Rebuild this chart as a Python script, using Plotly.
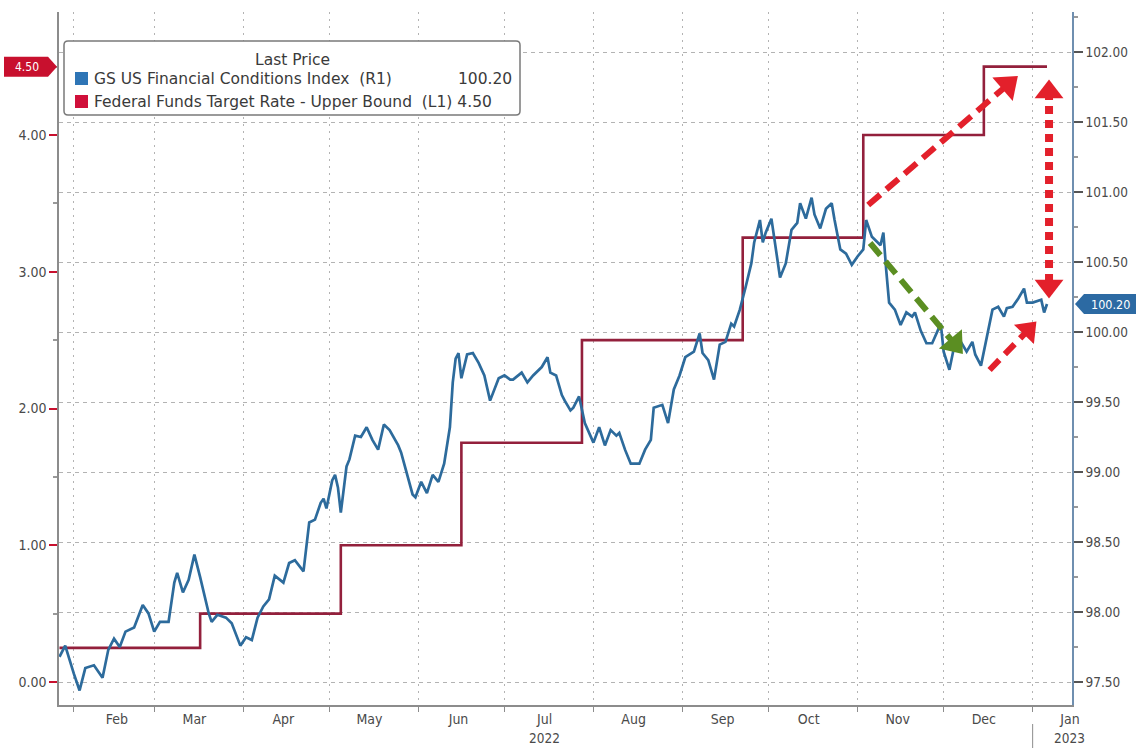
import plotly.graph_objects as go

# ---- data -----------------------------------------------------------------
fci_dates = [
    "2022-01-27", "2022-01-29", "2022-02-01", "2022-02-03", "2022-02-05", "2022-02-08",
    "2022-02-11", "2022-02-13", "2022-02-15", "2022-02-17", "2022-02-19", "2022-02-22",
    "2022-02-25", "2022-02-27", "2022-03-01", "2022-03-03", "2022-03-06", "2022-03-08",
    "2022-03-09", "2022-03-11", "2022-03-13", "2022-03-15", "2022-03-17", "2022-03-20",
    "2022-03-21", "2022-03-23", "2022-03-26", "2022-03-28", "2022-03-31", "2022-04-02",
    "2022-04-04", "2022-04-06", "2022-04-08", "2022-04-10", "2022-04-12", "2022-04-15",
    "2022-04-17", "2022-04-19", "2022-04-22", "2022-04-24", "2022-04-26", "2022-04-28",
    "2022-04-29", "2022-04-30", "2022-05-02", "2022-05-03", "2022-05-04", "2022-05-05",
    "2022-05-07", "2022-05-08", "2022-05-10", "2022-05-12", "2022-05-14", "2022-05-16",
    "2022-05-18", "2022-05-20", "2022-05-22", "2022-05-25", "2022-05-26", "2022-05-28",
    "2022-05-30", "2022-05-31", "2022-06-02", "2022-06-04", "2022-06-06", "2022-06-08",
    "2022-06-10", "2022-06-12", "2022-06-13", "2022-06-14", "2022-06-15", "2022-06-16",
    "2022-06-18", "2022-06-20", "2022-06-22", "2022-06-24", "2022-06-26", "2022-06-29",
    "2022-07-01", "2022-07-03", "2022-07-04", "2022-07-07", "2022-07-09", "2022-07-11",
    "2022-07-14", "2022-07-16", "2022-07-17", "2022-07-19", "2022-07-21", "2022-07-22",
    "2022-07-24", "2022-07-25", "2022-07-27", "2022-07-29", "2022-07-31", "2022-08-01",
    "2022-08-03", "2022-08-05", "2022-08-07", "2022-08-09", "2022-08-10", "2022-08-12",
    "2022-08-14", "2022-08-17", "2022-08-19", "2022-08-21", "2022-08-22", "2022-08-25",
    "2022-08-27", "2022-08-29", "2022-08-31", "2022-09-02", "2022-09-05", "2022-09-07",
    "2022-09-08", "2022-09-10", "2022-09-12", "2022-09-14", "2022-09-16", "2022-09-18",
    "2022-09-19", "2022-09-21", "2022-09-23", "2022-09-25", "2022-09-26", "2022-09-28",
    "2022-09-29", "2022-09-30", "2022-10-02", "2022-10-03", "2022-10-05", "2022-10-07",
    "2022-10-09", "2022-10-11", "2022-10-12", "2022-10-14", "2022-10-16", "2022-10-17",
    "2022-10-19", "2022-10-21", "2022-10-23", "2022-10-24", "2022-10-26", "2022-10-28",
    "2022-10-30", "2022-11-01", "2022-11-03", "2022-11-04", "2022-11-06", "2022-11-09",
    "2022-11-10", "2022-11-11", "2022-11-12", "2022-11-14", "2022-11-16", "2022-11-18",
    "2022-11-20", "2022-11-21", "2022-11-23", "2022-11-25", "2022-11-27", "2022-11-30",
    "2022-12-01", "2022-12-03", "2022-12-05", "2022-12-07", "2022-12-09", "2022-12-11",
    "2022-12-12", "2022-12-14", "2022-12-16", "2022-12-18", "2022-12-20", "2022-12-22",
    "2022-12-23", "2022-12-25", "2022-12-27", "2022-12-29", "2022-12-30", "2023-01-01",
    "2023-01-04", "2023-01-05", "2023-01-06",
]
fci_values = [
    97.68, 97.76, 97.56, 97.44, 97.60, 97.62,
    97.53, 97.73, 97.81, 97.75, 97.86, 97.89,
    98.05, 97.99, 97.86, 97.93, 97.93, 98.21,
    98.28, 98.14, 98.23, 98.41, 98.25, 97.99,
    97.93, 97.98, 97.96, 97.92, 97.76, 97.82,
    97.80, 97.96, 98.04, 98.09, 98.26, 98.21,
    98.35, 98.37, 98.29, 98.64, 98.66, 98.78,
    98.81, 98.74, 98.94, 98.98, 98.89, 98.71,
    99.04, 99.09, 99.26, 99.25, 99.32, 99.23,
    99.16, 99.34, 99.30, 99.19, 99.14, 98.99,
    98.84, 98.82, 98.93, 98.85, 98.98, 98.93,
    99.06, 99.32, 99.64, 99.81, 99.85, 99.67,
    99.84, 99.85, 99.78, 99.69, 99.51, 99.67,
    99.69, 99.66, 99.66, 99.71, 99.64, 99.69,
    99.75, 99.82, 99.71, 99.69, 99.55, 99.51,
    99.44, 99.46, 99.54, 99.35, 99.25, 99.21,
    99.32, 99.19, 99.30, 99.26, 99.28, 99.16,
    99.06, 99.06, 99.16, 99.23, 99.46, 99.48,
    99.35, 99.59, 99.69, 99.82, 99.86, 99.99,
    99.85, 99.80, 99.66, 99.91, 99.93, 100.06,
    100.04, 100.16, 100.32, 100.49, 100.64, 100.80,
    100.64, 100.71, 100.81, 100.68, 100.39, 100.49,
    100.73, 100.78, 100.92, 100.81, 100.96, 100.84,
    100.74, 100.88, 100.92, 100.80, 100.59, 100.56,
    100.48, 100.54, 100.59, 100.80, 100.68, 100.62,
    100.71, 100.44, 100.21, 100.16, 100.05, 100.14,
    100.11, 100.14, 100.01, 99.92, 99.92, 100.06,
    99.86, 99.73, 99.93, 99.93, 99.86, 99.93,
    99.84, 99.76, 99.96, 100.16, 100.18, 100.11,
    100.17, 100.18, 100.24, 100.31, 100.21, 100.21,
    100.23, 100.14, 100.20,
]

fed_dates = ["2022-01-27", "2022-03-17", "2022-05-05", "2022-06-16", "2022-07-28",
             "2022-09-22", "2022-11-03", "2022-12-15", "2023-01-06"]
fed_rates = [0.25, 0.50, 1.00, 1.75, 2.50, 3.25, 4.00, 4.50, 4.50]

month_tick_dates = ["2022-02-16", "2022-03-15", "2022-04-15", "2022-05-15", "2022-06-15",
                    "2022-07-15", "2022-08-15", "2022-09-15", "2022-10-15", "2022-11-15",
                    "2022-12-15", "2023-01-14"]
month_tick_labels = ["Feb", "Mar", "Apr", "May", "Jun", "Jul", "Aug", "Sep", "Oct",
                     "Nov", "Dec", "Jan"]
year_label_dates = ["2022-07-15", "2023-01-14"]
year_labels = ["2022", "2023"]

left_ticks = [0, 1, 2, 3, 4]

# annotation arrows (date, right-axis level)
arrow_rate_x = ["2022-11-04 17:00", "2022-12-23 07:00"]
arrow_rate_y = [100.907, 101.766]
arrow_fci_x = ["2022-11-05 09:00", "2022-12-04 19:00"]
arrow_fci_y = [100.636, 99.915]
arrow_rebound_x = ["2022-12-17 00:00", "2022-12-30 10:00"]
arrow_rebound_y = [99.729, 100.014]
arrow_gap_x = ["2023-01-06 17:00", "2023-01-06 17:00"]
arrow_gap_y = [101.714, 100.329]

# ---- styling ----------------------------------------------------------------
W, H = 1139, 748
ML, MR, MT, MB = 59, 67, 12, 43
PW, PH = W - ML - MR, H - MT - MB
FONT = "DejaVu Sans Condensed, DejaVu Sans, sans-serif"
LEGEND_FONT = "DejaVu Sans, sans-serif"
BLUE = "#2d6b9c"
FED = "#93203c"
ARROW_RED = "#e3202b"
ARROW_GREEN = "#5b8e22"
GRID = "#b3b3b3"
AXIS_TEXT = "#4a4a4a"


def px(x):
    return (x - ML) / PW


def py(y):
    return (H - MB - y) / PH


fig = go.Figure()

fig.add_trace(go.Scatter(
    x=fed_dates, y=fed_rates, mode="lines", line=dict(color=FED, width=2.6, shape="hv"),
    yaxis="y", showlegend=False, hoverinfo="skip"))

fig.add_trace(go.Scatter(
    x=fci_dates, y=fci_values, mode="lines", line=dict(color=BLUE, width=2.7),
    yaxis="y2", showlegend=False, hoverinfo="skip"))


def add_arrow(xs, ys, color, width, dash, size, symbols=None):
    if symbols is None:
        marker = dict(size=[0, size], symbol="triangle-up", angleref="previous", color=color,
                      opacity=1, line=dict(width=0))
    else:
        marker = dict(size=size, symbol=symbols, color=color, opacity=1, line=dict(width=0))
    fig.add_trace(go.Scatter(
        x=xs, y=ys, yaxis="y2", mode="lines+markers", opacity=1,
        line=dict(color=color, width=width, dash=dash),
        marker=marker, showlegend=False, hoverinfo="skip", cliponaxis=False))


add_arrow(arrow_rate_x, arrow_rate_y, ARROW_RED, 6, "16px,8px", 27)
add_arrow(arrow_fci_x, arrow_fci_y, ARROW_GREEN, 6, "16px,8px", 26)
add_arrow(arrow_rebound_x, arrow_rebound_y, ARROW_RED, 6, "14px,8px", 24)
add_arrow(arrow_gap_x, arrow_gap_y, ARROW_RED, 8, "8px,6px", 25,
          symbols=["triangle-up", "triangle-down"])

shapes = []
annotations = []

# price tags on each axis
fed_last = fed_rates[-1]
fci_last = fci_values[-1]
shapes.append(dict(type="path", xref="paper", yref="y", xsizemode="pixel", ysizemode="pixel",
                   xanchor=0, yanchor=fed_last,
                   path="M-55,-10 L-11,-10 L-2,0 L-11,10 L-55,10 Z",
                   fillcolor="#c8102e", line=dict(width=0)))
annotations.append(dict(xref="paper", yref="y", x=0, y=fed_last, xshift=-32, xanchor="center",
                        yanchor="middle", text=f"{fed_last:.2f}", showarrow=False,
                        font=dict(family=FONT, size=12, color="white")))
shapes.append(dict(type="path", xref="paper", yref="y2", xsizemode="pixel", ysizemode="pixel",
                   xanchor=1, yanchor=fci_last,
                   path="M3,0 L12,-10 L64,-10 L64,10 L12,10 Z",
                   fillcolor="#2c6aa3", line=dict(width=0)))
annotations.append(dict(xref="paper", yref="y2", x=1, y=fci_last, xshift=38, xanchor="center",
                        yanchor="middle", text=f"{fci_last:.2f}", showarrow=False,
                        font=dict(family=FONT, size=12.5, color="white")))

# year labels and separator under the month labels
for d, lab in zip(year_label_dates, year_labels):
    annotations.append(dict(xref="x", yref="paper", x=d, y=py(738), text=lab, showarrow=False,
                            xanchor="center", yanchor="middle",
                            font=dict(family=FONT, size=13.5, color=AXIS_TEXT)))
shapes.append(dict(type="line", xref="x", yref="paper", x0="2023-01-01", x1="2023-01-01",
                   y0=py(724), y1=py(748), line=dict(color="#8c8c8c", width=1)))


# legend box
def rounded_rect(x0, y0, x1, y1, r):
    pts = [
        f"M{px(x0 + r)},{py(y0)}", f"L{px(x1 - r)},{py(y0)}",
        f"Q{px(x1)},{py(y0)} {px(x1)},{py(y0 + r)}", f"L{px(x1)},{py(y1 - r)}",
        f"Q{px(x1)},{py(y1)} {px(x1 - r)},{py(y1)}", f"L{px(x0 + r)},{py(y1)}",
        f"Q{px(x0)},{py(y1)} {px(x0)},{py(y1 - r)}", f"L{px(x0)},{py(y0 + r)}",
        f"Q{px(x0)},{py(y0)} {px(x0 + r)},{py(y0)}", "Z",
    ]
    return " ".join(pts)


shapes.append(dict(type="path", xref="paper", yref="paper", path=rounded_rect(64, 41, 520, 115, 4),
                   fillcolor="white", line=dict(color="#7a7a7a", width=1.5), layer="above"))
shapes.append(dict(type="rect", xref="paper", yref="paper", x0=px(75), x1=px(88), y0=py(85),
                   y1=py(72), fillcolor="#2e75b6", line=dict(width=0), layer="above"))
shapes.append(dict(type="rect", xref="paper", yref="paper", x0=px(75), x1=px(88), y0=py(108),
                   y1=py(95), fillcolor="#d0103a", line=dict(width=0), layer="above"))

legend_font = dict(family=LEGEND_FONT, size=15.5, color="#3a3a3a")
annotations.append(dict(xref="paper", yref="paper", x=px(292), y=py(60), text="Last Price",
                        showarrow=False, xanchor="center", yanchor="middle", font=legend_font))
annotations.append(dict(xref="paper", yref="paper", x=px(92), y=py(79),
                        text="GS US Financial Conditions Index  (R1)",
                        showarrow=False, xanchor="left", yanchor="middle", font=legend_font))
annotations.append(dict(xref="paper", yref="paper", x=px(514), y=py(79), text=f"{fci_last:.2f}",
                        showarrow=False, xanchor="right", yanchor="middle", font=legend_font))
annotations.append(dict(xref="paper", yref="paper", x=px(92), y=py(102),
                        text=f"Federal Funds Target Rate - Upper Bound  (L1) {fed_last:.2f}",
                        showarrow=False, xanchor="left", yanchor="middle", font=legend_font))

tick_font = dict(family=FONT, size=14, color=AXIS_TEXT)

fig.update_layout(
    width=W, height=H,
    margin=dict(l=ML, r=MR, t=MT, b=MB),
    paper_bgcolor="white", plot_bgcolor="white",
    showlegend=False,
    shapes=shapes, annotations=annotations,
    xaxis=dict(
        type="date", range=["2022-01-26 20:00", "2023-01-14 17:00"], automargin=False,
        tickmode="array", tickvals=month_tick_dates, ticktext=month_tick_labels,
        ticks="", showgrid=False, zeroline=False,
        showline=True, linecolor="#8c8c8c", linewidth=1.5,
        tickfont=dict(family=FONT, size=14, color=AXIS_TEXT),
        minor=dict(tickmode="linear", tick0="2022-02-01", dtick="M1", ticks="outside",
                   ticklen=5, tickcolor="#8c8c8c", showgrid=True, gridcolor=GRID,
                   griddash="2px,5px", gridwidth=1),
    ),
    yaxis=dict(
        range=[-0.168, 4.8995], tickmode="array", tickvals=left_ticks, tickformat=".2f",
        automargin=False,
        ticks="outside", ticklen=8, tickwidth=2, tickcolor="#c8102e",
        showline=True, linecolor="#8c8c8c", linewidth=1.5,
        showgrid=False, zeroline=False, tickfont=tick_font,
        minor=dict(tickmode="linear", tick0=0.5, dtick=1, ticks="outside", ticklen=4,
                   tickcolor="#999999"),
    ),
    yaxis2=dict(
        overlaying="y", side="right", range=[97.336, 102.286], automargin=False,
        tick0=97.5, dtick=0.5, tickformat=".2f",
        ticks="outside", ticklen=9, tickwidth=1.5, tickcolor="#555555",
        showline=True, linecolor="#6f8fb0", linewidth=1.5,
        showgrid=True, gridcolor=GRID, griddash="4px,4px", gridwidth=1,
        zeroline=False, tickfont=dict(family=FONT, size=13.5, color=AXIS_TEXT),
        minor=dict(tick0=97.25, dtick=0.5, ticks="outside", ticklen=4, tickcolor="#999999"),
    ),
)

fig.write_html("out.html")
